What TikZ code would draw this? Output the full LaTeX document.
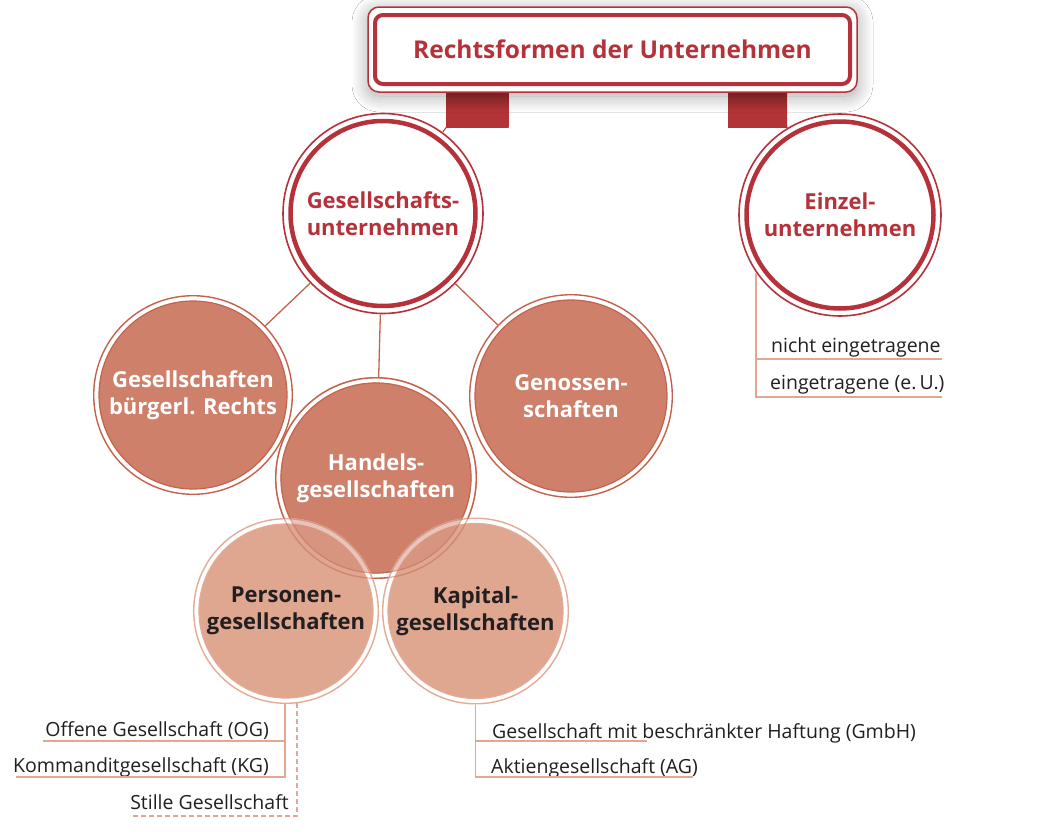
\documentclass[tikz,border=0pt]{standalone}
\usepackage{fontspec}
\setmainfont{Open Sans}
\usetikzlibrary{shadows.blur}
\definecolor{tred}{HTML}{B5323A}
\definecolor{tabred}{HTML}{B23437}
\definecolor{tabdark}{HTML}{962A2D}
\definecolor{dfill}{HTML}{CE806B}
\definecolor{dline}{HTML}{C4634D}
\definecolor{lfill}{HTML}{DFA690}
\definecolor{lline}{HTML}{E2AC97}
\definecolor{listline}{HTML}{E3A78F}
\definecolor{txt}{HTML}{231F20}
\begin{document}
\begin{tikzpicture}[x=1pt,y=-1pt,
  cnode/.style={circle, inner sep=0pt, outer sep=0pt, minimum size=#1, align=center,
    font=\fontsize{22}{27}\selectfont\bfseries},
  rednode/.style={cnode=#1, text=tred},
  darknode/.style={cnode=#1, text=white},
  lightnode/.style={cnode=#1, text=txt},
  tabbox/.style={rectangle, inner sep=0pt, outer sep=0pt, minimum width=62pt, minimum height=35pt,
    top color=tabdark, bottom color=tabred, middle color=tabred, draw=none},
  titlebox/.style={rectangle, rounded corners=11pt, draw=tred, line width=1.5pt, fill=white,
    minimum width=489pt, minimum height=85pt, inner sep=0pt,
    font=\fontsize{24.5}{28}\selectfont\bfseries, text=tred,
    blur shadow={shadow xshift=0pt, shadow yshift=-4pt, shadow blur radius=16pt,
      shadow blur steps=20, shadow opacity=35}},
  ltxt/.style={inner sep=0pt, font=\fontsize{19.5}{24}\selectfont, text=txt},
  lln/.style={draw=listline, line width=1.6pt},
  conn/.style={draw=dline, line width=1.3pt},
  redring/.style={draw=tred, line width=1.6pt},
  redthick/.style={draw=tred, line width=4.5pt},
  dring/.style={draw=dline, line width=1.4pt},
  ddisk/.style={fill=dfill, draw=dline, line width=1.2pt},
  lring/.style={draw=lline, line width=1.4pt},
  ldisk/.style={fill=lfill, draw=lline, line width=1.2pt},
]
\useasboundingbox (0,0) rectangle (1058,838);
\fill[white] (0,0) rectangle (1058,838);

% circle centres
\coordinate (cges) at (383,213.5);
\coordinate (ceinz) at (840,215);
\coordinate (cgbr) at (193,395);
\coordinate (cgen) at (571,396);
\coordinate (chan) at (376,478);
\coordinate (cpers) at (286,611);
\coordinate (ckap) at (475.5,611);

% circle shapes
\draw[redring] (cges) circle[radius=100pt];
\draw[redthick] (cges) circle[radius=92.5pt];
\draw[redring] (ceinz) circle[radius=101pt];
\draw[redthick] (ceinz) circle[radius=93.5pt];
\draw[dring] (cgbr) circle[radius=99.3pt];
\path[ddisk] (cgbr) circle[radius=94pt];
\draw[dring] (cgen) circle[radius=101.3pt];
\path[ddisk] (cgen) circle[radius=96pt];
\draw[dring] (chan) circle[radius=100.3pt];
\path[ddisk] (chan) circle[radius=95pt];
\path[fill=white] (cpers) circle[radius=93pt];
\draw[lring] (cpers) circle[radius=92.3pt];
\path[ldisk] (cpers) circle[radius=87pt];
\path[fill=white] (ckap) circle[radius=93.5pt];
\draw[lring] (ckap) circle[radius=92.8pt];
\path[ldisk] (ckap) circle[radius=87.5pt];
% translucent overlay of Handelsgesellschaften
\draw[dring, opacity=0.45] (chan) circle[radius=100.3pt];
\path[ddisk, fill opacity=0.45, draw opacity=0.45] (chan) circle[radius=95pt];

% tabs and title
\node[tabbox] (tabL) at (477.5,109.5) {};
\node[tabbox, minimum width=59pt] (tabR) at (757.5,109.5) {};
\node[titlebox] (title) at (612.5,49.5) {Rechtsformen der Unternehmen};
\draw[tred, line width=4pt, rounded corners=8pt] (375,15) rectangle (850,84);

% circle nodes (text)
\node[rednode=202pt] (ges) at (cges) {Gesellschafts-\\unternehmen};
\node[rednode=204pt] (einz) at (ceinz) {Einzel-\\unternehmen};
\node[darknode=200pt] (gbr) at (cgbr) {Gesellschaften\\bürgerl. Rechts};
\node[darknode=204pt] (gen) at (cgen) {Genossen-\\schaften};
\node[darknode=202pt] (han) at (chan) {Handels-\\gesellschaften};
\node[lightnode=186pt] (pers) at (cpers) {Personen-\\gesellschaften};
\node[lightnode=187pt] (kap) at (ckap) {Kapital-\\gesellschaften};

% connectors
\draw[tred, line width=1pt] (tabL.south west) -- (ges);
\draw[tred, line width=1pt] (tabR.south east) -- (einz);
\draw[conn] (ges) -- (gbr);
\draw[conn] (ges) -- (han);
\draw[conn] (ges) -- (gen);

% Einzelunternehmen list
\node[ltxt, anchor=base west] (ne) at (771,352) {nicht eingetragene};
\node[ltxt, anchor=base west] (eu) at (770,389) {eingetragene (e.\,U.)};
\coordinate (e0) at (756,273);
\coordinate (e1) at (756,359);
\coordinate (e2) at (756,397);
\draw[lln] (e0) -- (e2) -- (942,397);
\draw[lln] (e1) -- (942,359);

% Personengesellschaften list
\node[ltxt, anchor=base east] (og) at (269,736) {Offene Gesellschaft (OG)};
\node[ltxt, anchor=base east] (kg) at (269,772.5) {Kommanditgesellschaft (KG)};
\node[ltxt, anchor=base east] (sg) at (289,809) {Stille Gesellschaft};
\coordinate (p0) at (285,704);
\coordinate (p1) at (285,741);
\coordinate (p2) at (285,777);
\draw[lln] (p0) -- (p2) -- (16,777);
\draw[lln] (p1) -- (43,741);
\coordinate (d0) at (297,703);
\coordinate (d1) at (297,816);
\draw[lln, dash pattern=on 5pt off 3pt] (d0) -- (d1) -- (130,816);

% Kapitalgesellschaften list
\node[ltxt, anchor=base west] (gmbh) at (492,738) {Gesellschaft mit beschränkter Haftung (GmbH)};
\node[ltxt, anchor=base west] (ag) at (491,773) {Aktiengesellschaft (AG)};
\coordinate (k0) at (475.5,704.5);
\coordinate (k1) at (475.5,741);
\coordinate (k2) at (475.5,777);
\draw[lln] (k0) -- (k2) -- (693,777);
\draw[lln] (k1) -- (647,741);
\end{tikzpicture}
\end{document}
